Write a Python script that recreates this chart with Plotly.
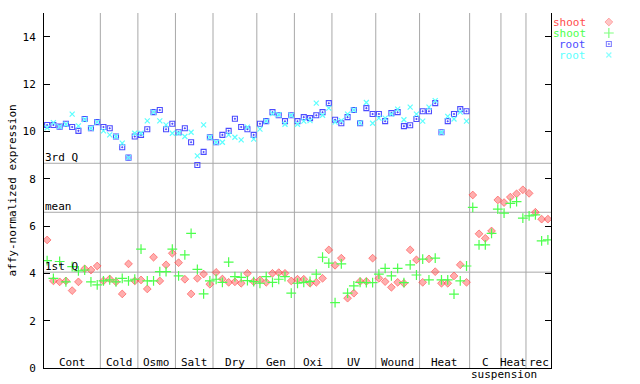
import plotly.graph_objects as go

# ---------------- data ----------------
sections = ["Cont", "Cold", "Osmo", "Salt", "Dry", "Gen", "Oxi", "UV", "Wound", "Heat", "C", "Heat", "rec"]
section_sizes = [9, 6, 6, 6, 7, 6, 6, 7, 7, 8, 5, 4, 4]
group_label = "suspension"
group_start_section = 10  # "C"

series_names = ["shoot", "shoot", "root", "root"]

shoot_rep1 = [5.41, 3.68, 3.64, 3.68, 3.27, 3.64, 4.19, 4.14, 4.31,
              3.68, 3.76, 3.64, 3.13, 4.40, 3.68,
              3.72, 3.34, 4.68, 3.68, 4.36, 4.85,
              4.45, 3.75, 3.13, 3.79, 3.97, 3.54,
              4.04, 3.76, 3.62, 3.64, 3.58, 4.00, 3.65,
              3.72, 3.62, 4.00, 4.03, 4.00, 3.68,
              3.75, 3.75, 3.58, 3.62, 3.79, 4.99,
              4.34, 4.64, 2.95, 3.16, 3.66, 3.66, 4.64,
              3.79, 3.65, 3.41, 3.62, 3.58, 4.99, 4.57,
              3.62, 4.61, 4.07, 3.58, 3.58, 3.89, 4.36, 3.62,
              7.31, 5.67, 5.48, 5.79, 7.10,
              6.99, 7.22, 7.36, 7.53,
              7.38, 6.58, 6.29, 6.29]

shoot_rep2 = [4.54, 3.79, 4.50, 3.64, 4.28, 4.10, 4.14, 3.64, 3.51,
              3.68, 3.72, 3.64, 3.79, 3.68, 3.75,
              5.02, 3.68, 3.68, 4.07, 4.07, 5.02,
              3.89, 4.78, 5.69, 4.17, 3.13, 3.68,
              3.75, 3.62, 4.47, 3.86, 3.83, 3.69, 3.65,
              3.58, 3.86, 3.62, 3.75, 3.86, 3.16,
              3.58, 3.62, 3.66, 3.97, 4.68, 4.43,
              2.76, 4.40, 3.16, 3.47, 3.62, 3.61, 3.61,
              3.97, 4.21, 3.89, 4.21, 3.61, 4.36, 3.93,
              4.60, 3.72, 4.64, 3.72, 3.72, 3.12, 3.68, 4.31,
              6.79, 5.20, 5.20, 5.69, 6.71,
              6.54, 6.96, 7.03, 6.33,
              6.43, 6.47, 5.37, 5.41]

root_rep1 = [10.27, 10.27, 10.20, 10.32, 10.18, 10.02, 10.52, 10.13, 10.39,
             10.18, 10.13, 9.78, 9.33, 8.89, 9.78,
             9.85, 10.09, 10.81, 10.90, 10.09, 10.32,
             9.96, 10.13, 9.54, 8.58, 9.13, 9.75,
             9.54, 9.85, 10.02, 10.53, 10.18, 10.09, 9.85,
             10.32, 10.43, 10.81, 10.68, 10.43, 10.68,
             10.43, 10.60, 10.56, 10.68, 10.81, 11.19,
             10.49, 10.34, 10.60, 10.90, 10.34, 10.98, 10.73,
             10.73, 10.43, 10.77, 10.81, 10.22, 10.26, 10.52,
             10.85, 10.85, 11.19, 9.96, 10.43, 10.73, 10.94, 10.85]

root_rep2 = [10.15, 10.37, 10.20, 10.30, 10.73, 10.23, 10.50, 10.13, 10.39,
             10.02, 9.85, 9.78, 9.50, 8.89, 9.92,
             9.92, 10.44, 10.81, 10.44, 10.27, 9.92,
             9.92, 9.78, 9.96, 8.96, 10.27, 9.75,
             9.54, 9.54, 9.85, 9.75, 9.64, 10.18, 9.67,
             10.09, 10.43, 10.75, 10.70, 10.30, 10.68,
             10.30, 10.43, 10.45, 11.19, 10.68, 10.98,
             10.39, 10.45, 10.73, 10.90, 10.36, 11.22, 10.34,
             10.56, 10.56, 10.73, 10.94, 10.49, 11.02, 10.73,
             10.43, 11.02, 11.30, 9.96, 10.63, 10.52, 10.81, 10.43]

ref_names = ["3rd Q", "mean", "1st Q"]
ref_values = [8.65, 6.58, 4.05]

y_ticks = [0, 2, 4, 6, 8, 10, 12, 14]

# ---------------- styling ----------------
FONT = "DejaVu Sans Mono"
colors = ["#ff4c4c", "#4cff4c", "#4c4cff", "#5cffff"]
grid_color = "#a8a8a8"

n_cols = sum(section_sizes)
bounds = [0]
for s in section_sizes:
    bounds.append(bounds[-1] + s)

fig = go.Figure()

all_series = [shoot_rep1, shoot_rep2, root_rep1, root_rep2]
marker_styles = [
    dict(symbol="diamond", size=6, color="rgba(255,76,76,0.45)",
         line=dict(color="rgba(255,76,76,0.9)", width=0.7)),
    dict(symbol="cross-thin-open", size=7, color=colors[1],
         line=dict(color=colors[1], width=1.2)),
    dict(symbol="square-open-dot", size=5, color=colors[2],
         line=dict(color=colors[2], width=1.1)),
    dict(symbol="x-thin-open", size=5, color=colors[3],
         line=dict(color=colors[3], width=1.2)),
]

for vals, ms in zip(all_series, marker_styles):
    fig.add_trace(go.Scatter(
        x=[i + 0.5 for i in range(len(vals))], y=vals,
        mode="markers", marker=ms, showlegend=False,
        xaxis="x", yaxis="y", hoverinfo="skip"))

# legend (text to the left of the symbol) on a helper axis
fig.add_trace(go.Scatter(
    x=[0.65] * len(series_names), y=[-i for i in range(len(series_names))],
    mode="markers", xaxis="x2", yaxis="y2", showlegend=False, hoverinfo="skip",
    marker=dict(symbol=[m["symbol"] for m in marker_styles],
                size=[m["size"] for m in marker_styles],
                color=[m["color"] for m in marker_styles],
                line=dict(color=[m["line"]["color"] for m in marker_styles],
                          width=[m["line"]["width"] for m in marker_styles]))))

annotations = []
for i, (nm, c) in enumerate(zip(series_names, colors)):
    annotations.append(dict(x=0.41, y=-i, xref="x2", yref="y2", text=nm,
                            showarrow=False, xanchor="right", yanchor="middle",
                            borderpad=0, font=dict(family=FONT, size=11, color=c)))

shapes = []
# vertical section separators
for b in bounds[1:-1]:
    shapes.append(dict(type="line", xref="x", yref="paper", x0=b, x1=b, y0=0, y1=1,
                       line=dict(color=grid_color, width=1), layer="below"))
# reference lines
for nm, v in zip(ref_names, ref_values):
    shapes.append(dict(type="line", xref="paper", yref="y", x0=0, x1=0.8507, y0=v, y1=v,
                       line=dict(color=grid_color, width=1), layer="below"))
    annotations.append(dict(x=0, y=v, xref="x", yref="y", text=nm, showarrow=False,
                            xanchor="left", yanchor="bottom", xshift=-1, yshift=-3,
                            font=dict(family=FONT, size=11, color="black")))

# section labels
for s, a, b in zip(sections, bounds[:-1], bounds[1:]):
    annotations.append(dict(x=(a + b) / 2, y=0, xref="x", yref="y", text=s,
                            showarrow=False, xanchor="center", yanchor="bottom",
                            yshift=-3, font=dict(family=FONT, size=11, color="black")))
annotations.append(dict(x=(bounds[group_start_section] + bounds[-1]) / 2 - 1, y=0,
                        xref="x", yref="paper", text=group_label, showarrow=False,
                        xanchor="center", yanchor="top", yshift=1, borderpad=0,
                        font=dict(family=FONT, size=11, color="black")))

# y-axis title
annotations.append(dict(x=0, y=0.5, xref="paper", yref="paper",
                        text="affy-normalized expression", showarrow=False,
                        textangle=-90, xanchor="center", yanchor="middle", xshift=-32,
                        font=dict(family=FONT, size=11, color="black")))

fig.update_layout(
    width=640, height=384,
    margin=dict(l=44, r=0, t=13, b=16, pad=0),
    paper_bgcolor="white", plot_bgcolor="white",
    font=dict(family=FONT, size=11, color="black"),
    xaxis=dict(domain=[0, 0.8507], range=[0, n_cols], showgrid=False, zeroline=False,
               showline=True, linecolor="black", linewidth=1, mirror=False,
               showticklabels=False, ticks=""),
    yaxis=dict(range=[0, 15], tickvals=y_ticks, showgrid=False, zeroline=False,
               showline=True, linecolor="black", linewidth=1, mirror="ticks",
               ticks="inside", ticklen=6, tickcolor="black", ticklabelstandoff=5,
               tickfont=dict(family=FONT, size=11, color="black")),
    xaxis2=dict(domain=[0.8507, 1], range=[0, 1], visible=False, anchor="y2"),
    yaxis2=dict(domain=[0, 1], range=[-31.45, 0.82], visible=False, anchor="x2"),
    shapes=shapes, annotations=annotations, showlegend=False,
)

fig.write_html("out.html", config={"displayModeBar": False},
               post_script="document.body.style.margin='0px';document.body.style.overflow='hidden';")
